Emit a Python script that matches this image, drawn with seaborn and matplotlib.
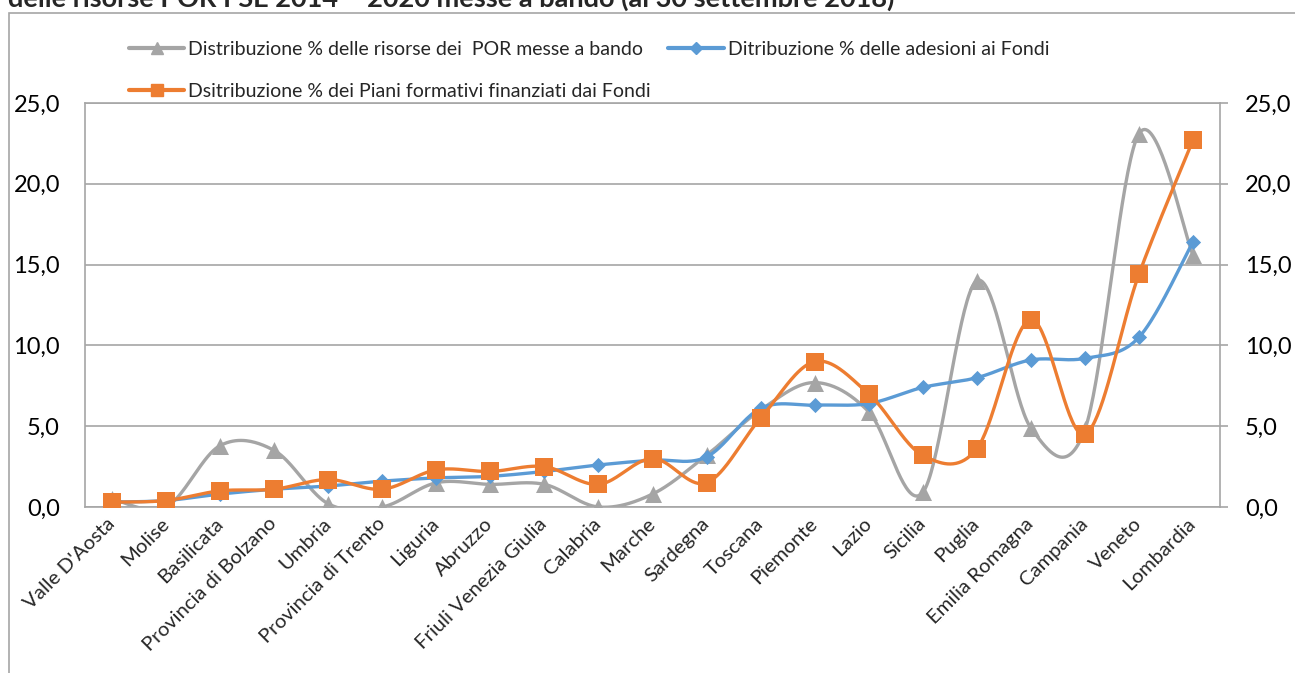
import numpy as np
import pandas as pd
import matplotlib
matplotlib.use("Agg")
import matplotlib.pyplot as plt
from matplotlib.lines import Line2D
from matplotlib.patches import Rectangle
from matplotlib.ticker import FuncFormatter, MultipleLocator
import seaborn as sns

regioni = [
    "Valle D'Aosta", "Molise", "Basilicata", "Provincia di Bolzano", "Umbria",
    "Provincia di Trento", "Liguria", "Abruzzo", "Friuli Venezia Giulia",
    "Calabria", "Marche", "Sardegna", "Toscana", "Piemonte", "Lazio",
    "Sicilia", "Puglia", "Emilia Romagna", "Campania", "Veneto", "Lombardia",
]
risorse_por = [0.5, 0.0, 3.8, 3.5, 0.2, 0.0, 1.5, 1.4, 1.4, 0.0, 0.8,
               3.2, 6.0, 7.7, 5.9, 0.9, 14.0, 4.9, 4.8, 23.1, 15.6]
adesioni_fondi = [0.3, 0.4, 0.8, 1.1, 1.3, 1.6, 1.8, 1.9, 2.2, 2.6, 2.9,
                  3.1, 6.1, 6.3, 6.4, 7.4, 8.0, 9.1, 9.2, 10.5, 16.4]
piani_formativi = [0.3, 0.4, 1.0, 1.1, 1.7, 1.1, 2.3, 2.2, 2.5, 1.4, 3.0,
                   1.5, 5.5, 9.0, 7.0, 3.2, 3.6, 11.6, 4.5, 14.4, 22.7]

lab_por = "Distribuzione % delle risorse dei  POR messe a bando"
lab_ades = "Ditribuzione % delle adesioni ai Fondi"
lab_piani = "Dsitribuzione % dei Piani formativi finanziati dai Fondi"
titolo = "delle risorse POR FSE 2014 \u2013 2020 messe a bando (al 30 settembre 2018)"

GRIGIO = "#A5A5A5"
BLU = "#5B9BD5"
ARANCIO = "#ED7D31"
LINEA = "#A6A6A6"

sns.set_theme(style="white")
plt.rcParams["font.family"] = ["Lato", "DejaVu Sans"]


def bezier_smooth(xs, ys, n=40):
    """Smoothed line through the points (cubic Bezier, Catmull-Rom controls)."""
    P = np.column_stack([xs, ys]).astype(float)
    out = []
    t = np.linspace(0, 1, n)[:, None]
    for i in range(len(P) - 1):
        p0 = P[i - 1] if i > 0 else P[i]
        p1, p2 = P[i], P[i + 1]
        p3 = P[i + 2] if i + 2 < len(P) else P[i + 1]
        c1 = p1 + (p2 - p0) / 6.0
        c2 = p2 - (p3 - p1) / 6.0
        seg = ((1 - t) ** 3) * p1 + 3 * ((1 - t) ** 2) * t * c1 \
            + 3 * (1 - t) * t ** 2 * c2 + (t ** 3) * p2
        out.append(seg if i == 0 else seg[1:])
    return np.vstack(out)


W, H = 1295, 673
fig = plt.figure(figsize=(W / 100, H / 100), dpi=100)
ax = fig.add_axes([85 / W, 1 - 507 / H, (1220 - 85) / W, (507 - 103) / H])

x = np.arange(len(regioni))
serie = [
    (risorse_por, GRIGIO, "^", 150),
    (adesioni_fondi, BLU, "D", 60),
    (piani_formativi, ARANCIO, "s", 170),
]
for z, (vals, col, mk, ms) in enumerate(serie):
    curve = bezier_smooth(x, vals)
    df_c = pd.DataFrame({"x": curve[:, 0], "y": curve[:, 1]})
    sns.lineplot(data=df_c, x="x", y="y", sort=False, estimator=None,
                 color=col, linewidth=2.4, ax=ax, zorder=3 + 2 * z)
    df_p = pd.DataFrame({"x": x, "y": vals})
    sns.scatterplot(data=df_p, x="x", y="y", marker=mk, s=ms, color=col,
                    edgecolor=col, linewidth=0, ax=ax, zorder=4 + 2 * z)

ax.set_xlim(-0.5, len(regioni) - 0.5)
ax.set_ylim(0, 25)
ax.yaxis.set_major_locator(MultipleLocator(5))
fmt = FuncFormatter(lambda v, p: f"{v:.1f}".replace(".", ","))
ax.yaxis.set_major_formatter(fmt)
ax.grid(axis="y", color=LINEA, linewidth=1.2)
ax.grid(axis="x", visible=False)
ax.set_axisbelow(True)
ax.set_xlabel("")
ax.set_ylabel("")
for s in ax.spines.values():
    s.set_color(LINEA)
    s.set_linewidth(1.2)

ax.set_xticks(x)
ax.set_xticklabels(regioni, rotation=45, ha="right", va="center",
                   rotation_mode="anchor", fontsize=14.6)
ax.tick_params(axis="x", length=0, pad=10)
ax.tick_params(axis="y", length=0, pad=18, labelsize=17, colors="black")
for lab in ax.get_yticklabels():
    lab.set_color("black")

ax2 = ax.twinx()
ax2.set_ylim(0, 25)
ax2.yaxis.set_major_locator(MultipleLocator(5))
ax2.yaxis.set_major_formatter(fmt)
ax2.tick_params(axis="y", length=6, width=1.2, color=LINEA, pad=12,
                labelsize=17, labelcolor="black", direction="out")
for s in ax2.spines.values():
    s.set_visible(False)
ax2.grid(False)

handles = [
    Line2D([], [], color=GRIGIO, lw=3, marker="^", markersize=9),
    Line2D([], [], color=ARANCIO, lw=3, marker="s", markersize=9),
    Line2D([], [], color=BLU, lw=3, marker="D", markersize=6),
]
fig.legend(handles, [lab_por, lab_piani, lab_ades], ncol=2,
           loc="upper left", bbox_to_anchor=(129 / W, 1 - 41 / H),
           frameon=False, fontsize=14, handlelength=2.85,
           handletextpad=0.2, columnspacing=0.9, labelspacing=1.3,
           borderpad=0, borderaxespad=0)

fig.add_artist(Rectangle((9 / W, -0.2), 2.0, 1.2 - 13 / H,
                         transform=fig.transFigure, fill=False,
                         edgecolor=LINEA, linewidth=1.2))
fig.text(8 / W, 1 - 7 / H, titolo, fontsize=19.5, fontweight="bold",
         ha="left", va="baseline")

fig.savefig("out.png", dpi=100, facecolor="white")
